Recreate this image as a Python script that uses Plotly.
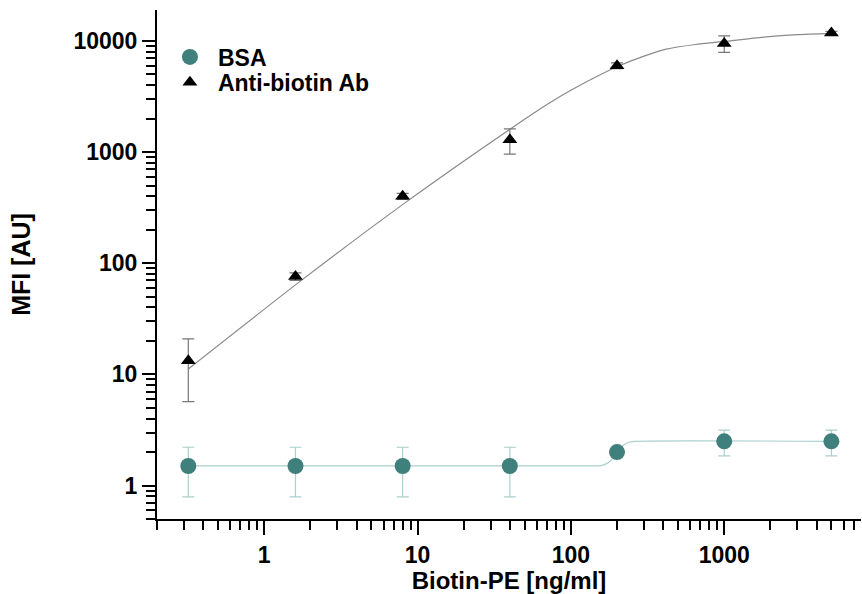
import math
import plotly.graph_objects as go

# ---- data ----
conc = [0.32, 1.6, 8, 40, 200, 1000, 5000]

bsa_mfi = [1.5, 1.5, 1.5, 1.5, 2.0, 2.5, 2.5]
bsa_err = [0.71, 0.71, 0.71, 0.71, 0.05, 0.65, 0.65]

ab_mfi = [13.3, 76, 400, 1290, 6000, 9500, 11800]
ab_err = [7.6, 6, 25, 330, 350, 1600, 400]

# fitted curves
bsa_fit_x = [0.32, 142, 160, 175, 190, 205, 220, 240, 260, 5000]
bsa_fit_y = [1.5, 1.5, 1.52, 1.6, 1.8, 2.05, 2.3, 2.45, 2.5, 2.5]

ab_fit_x = [0.32, 1.68, 8.37, 41.7, 72, 100, 139, 200, 300, 419, 650, 1000, 1888, 3000, 5000]
ab_fit_y = [11.2, 67.3, 353, 1667, 2750, 3600, 4600, 5870, 7300, 8450, 9300, 9900, 10900, 11400, 11700]

x_ticks = [1, 10, 100, 1000]
x_ticklabels = ["1", "10", "100", "1000"]
y_ticks = [1, 10, 100, 1000, 10000]
y_ticklabels = ["1", "10", "100", "1000", "10000"]

teal = "#3f7f7c"
teal_light = "#a9d0cd"
grey = "#8a8a8a"
FONT = "Liberation Sans, Arial, sans-serif"

fig = go.Figure()

fig.add_trace(go.Scatter(x=bsa_fit_x, y=bsa_fit_y, mode="lines",
                         line=dict(color=teal_light, width=1.2, shape="spline", smoothing=0.6),
                         showlegend=False, hoverinfo="skip"))
fig.add_trace(go.Scatter(x=ab_fit_x, y=ab_fit_y, mode="lines",
                         line=dict(color=grey, width=1.2, shape="spline", smoothing=0.6),
                         showlegend=False, hoverinfo="skip"))

fig.add_trace(go.Scatter(x=conc, y=bsa_mfi, mode="markers", name="BSA", legend="legend",
                         marker=dict(symbol="circle", size=16, color=teal),
                         error_y=dict(type="data", array=bsa_err, symmetric=True,
                                      color=teal_light, thickness=1.2, width=6)))
fig.add_trace(go.Scatter(x=conc, y=ab_mfi, mode="markers", name="Anti-biotin Ab", legend="legend2",
                         marker=dict(symbol="triangle-up", size=13, color="black"),
                         error_y=dict(type="data", array=ab_err, symmetric=True,
                                      color="#777777", thickness=1.2, width=6)))

def minor_vals(lo_exp, hi_exp, lo, hi):
    vals = []
    for e in range(lo_exp, hi_exp + 1):
        for m in range(2, 10):
            v = m * 10 ** e
            if lo <= v <= hi:
                vals.append(v)
    return vals

x_lo, x_hi = 0.2, 7800
y_lo, y_hi = 0.5, 19000

axis_font = dict(family=FONT, size=23, color="black", weight="bold")
title_font = dict(family=FONT, size=24, color="black", weight="bold")

fig.update_xaxes(type="log", range=[math.log10(x_lo), math.log10(x_hi)],
                 tickmode="array", tickvals=x_ticks, ticktext=x_ticklabels,
                 ticks="outside", ticklen=14, tickwidth=2, tickcolor="black",
                 showline=True, linecolor="black", linewidth=2,
                 showgrid=False, zeroline=False, tickfont=axis_font,
                 title=dict(text="Biotin-PE [ng/ml]", font=title_font, standoff=2),
                 minor=dict(tickmode="array", tickvals=minor_vals(-1, 3, x_lo, x_hi),
                            ticks="outside", ticklen=9, tickwidth=2, tickcolor="black", showgrid=False))
fig.update_yaxes(type="log", range=[math.log10(y_lo), math.log10(y_hi)],
                 tickmode="array", tickvals=y_ticks, ticktext=y_ticklabels,
                 ticks="outside", ticklen=13, tickwidth=2, tickcolor="black",
                 showline=True, linecolor="black", linewidth=2,
                 showgrid=False, zeroline=False, tickfont=axis_font,
                 title=dict(text="MFI [AU]", font=dict(family=FONT, size=25, color="black", weight="bold"), standoff=36),
                 minor=dict(tickmode="array", tickvals=minor_vals(-1, 4, y_lo, y_hi),
                            ticks="outside", ticklen=9, tickwidth=2, tickcolor="black", showgrid=False))

legend_font = dict(family=FONT, size=23, color="black", weight="bold")
fig.update_layout(
    width=862, height=594,
    margin=dict(l=157, r=1, t=10, b=75),
    plot_bgcolor="white", paper_bgcolor="white",
    legend=dict(x=0.007, y=0.95, xanchor="left", yanchor="top", font=legend_font,
                bgcolor="rgba(0,0,0,0)", itemwidth=46),
    legend2=dict(x=0.007, y=0.9, xanchor="left", yanchor="top", font=legend_font,
                 bgcolor="rgba(0,0,0,0)", itemwidth=46),
)

fig.write_html("out.html")
